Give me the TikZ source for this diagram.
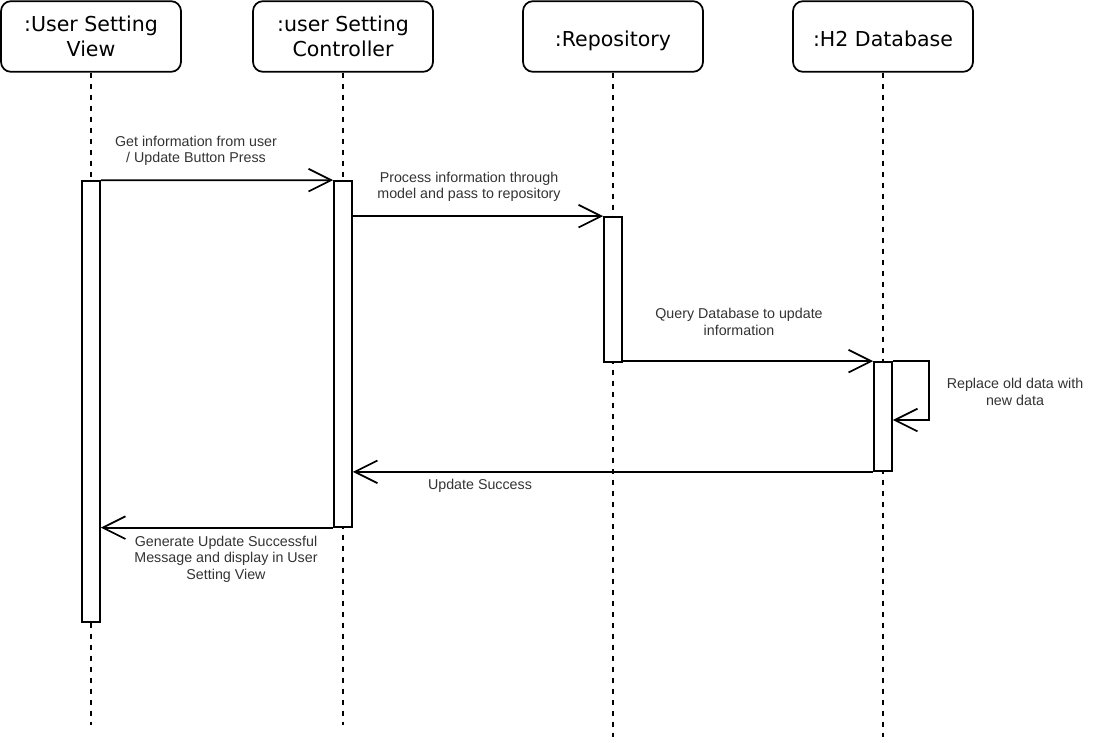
\documentclass[tikz,border=0pt]{standalone}
\usepackage{fontspec}
\setmainfont{Liberation Sans}
\newfontfamily\lifefont{DejaVu Sans}
\usetikzlibrary{arrows.meta}

\begin{document}
\begin{tikzpicture}[
    x=0.75pt, y=-0.75pt,
    every node/.style={align=center},
    % Stile per le teste delle linee di vita
    head/.style={draw, line width=1.3pt, rounded corners=7.5pt,
        minimum width=135pt, minimum height=53pt,
        font=\lifefont\fontsize{15.4}{18.8}\selectfont},
    % Teste con una sola riga (linea di base piu' in basso)
    onehead/.style={head, text height=15.3pt, text depth=0pt},
    % Stile per le linee di vita tratteggiate
    life/.style={line width=1.2pt, dash pattern=on 3.75pt off 4.5pt},
    % Stile per le barre di attivazione
    act/.style={draw, fill=white, line width=1.3pt, minimum width=13.5pt, inner sep=0pt},
    % Stile per i messaggi
    msg/.style={line width=1.3pt, -{Straight Barb[length=17pt, width=17pt]}},
    % Stile per le etichette dei messaggi
    lbl/.style={font=\fontsize{10.7}{12.4}\selectfont, text=black!80, inner sep=0pt}
]
\useasboundingbox (0,0) rectangle (1102,742);

% --- TESTE (oggetti) ---
\node[head] (view) at (91,36.5)  {:User Setting\\View};
\node[head] (ctrl) at (343,36.5) {:user Setting\\Controller};
\node[onehead] (repo) at (613,36.5) {:Repository};
\node[onehead] (db)   at (883,36.5) {:H2 Database};

% --- LINEE DI VITA ---
\coordinate (viewend) at (91,725);
\coordinate (ctrlend) at (343,725);
\coordinate (repoend) at (613,737);
\coordinate (dbend)   at (883,737);
\draw[life] (view) -- (viewend);
\draw[life] (ctrl) -- (ctrlend);
\draw[life] (repo) -- (repoend);
\draw[life] (db)   -- (dbend);

% --- ATTIVAZIONI ---
\node[act, minimum height=330.75pt] (actview) at (91,401.5)  {};
\node[act, minimum height=259.3pt]  (actctrl) at (343,353.9) {};
\node[act, minimum height=108.75pt] (actrepo) at (613,289.5) {};
\node[act, minimum height=81.75pt]  (actdb)   at (883,416.5) {};

% --- MESSAGGI ---
% 1. Vista -> Controller
\draw[msg] (actview.north east) -- (actctrl.north west);
\node[lbl] (lblget) at (196,151) {Get information from user\\/ Update Button Press};
% 2. Controller -> Repository
\draw[msg] (actctrl.east |- actrepo.north) -- (actrepo.north west);
\node[lbl] (lblproc) at (469,187) {Process information through\\model and pass to repository};
% 3. Repository -> Database
\draw[msg] (actrepo.east |- actdb.north) -- (actdb.north west);
\node[lbl] (lblquery) at (739,322) {Query Database to update\\information};
% 4. Messaggio a se stesso
\coordinate (selfturn) at (929,420);
\draw[msg] (actdb.north east) -| (selfturn) -- (actdb.east |- selfturn);
\node[lbl] (lblrepl) at (1015,392) {Replace old data with\\new data};
% 5. Database -> Controller
\draw[msg] (actdb.south west) -- (actctrl.east |- actdb.south);
\node[lbl] (lblok) at (480,486) {Update Success};
% 6. Controller -> Vista
\draw[msg] (actctrl.south west) -- (actview.east |- actctrl.south);
\node[lbl] (lblgen) at (226,559) {Generate Update Successful\\Message and display in User\\Setting View};

\end{tikzpicture}
\end{document}
